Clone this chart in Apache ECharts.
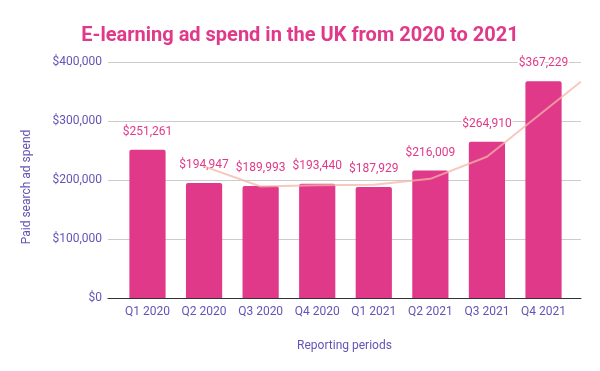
<!DOCTYPE html>
<html>
<head>
<meta charset="utf-8">
<script src="https://cdn.jsdelivr.net/npm/echarts@6/dist/echarts.min.js"></script>
<style>html,body{margin:0;padding:0;background:#fff}#c{width:600px;height:371px}</style>
</head>
<body>
<div id="c"></div>
<script>
const categories = ['Q1 2020','Q2 2020','Q3 2020','Q4 2020','Q1 2021','Q2 2021','Q3 2021','Q4 2021'];
const spend = [251261, 194947, 189993, 193440, 187929, 216009, 264910, 367229];
// trendline points: [category index, value]
const trendX = [1, 2, 3, 4, 5, 6, 7, 7.66];
const trendY = [223000, 189000, 191000, 192000, 202000, 239500, 316000, 366500];
const yTicks = [0, 100000, 200000, 300000, 400000];

const purple = '#6554b5';
const pink = '#e0398a';
const fmt = v => '$' + Number(v).toLocaleString('en-US');

const chart = echarts.init(document.getElementById('c'), null, {renderer: 'canvas'});
chart.setOption({
  backgroundColor: '#fff',
  animation: false,
  title: {
    text: 'E-learning ad spend in the UK from 2020 to 2021',
    left: 'center', top: 21,
    textStyle: {color: pink, fontFamily: 'Roboto', fontWeight: 'bold', fontSize: 20}
  },
  graphic: [{
    type: 'text', x: 27, y: 187, rotation: Math.PI / 2,
    style: {
      text: 'Paid search ad spend', fill: purple, font: '12px Roboto',
      align: 'center', verticalAlign: 'middle'
    }
  }],
  grid: [
    {left: 108, right: 19, top: 62, bottom: 73},
    {left: 119.2, right: 28.2, top: 62, bottom: 73}
  ],
  xAxis: [
    {
      type: 'value', gridIndex: 0, min: -0.698, max: 7.663,
      axisLine: {show: true, lineStyle: {color: '#333', width: 1}},
      axisTick: {show: false}, axisLabel: {show: false}, splitLine: {show: false},
      name: 'Reporting periods', nameLocation: 'middle', nameGap: 42,
      nameTextStyle: {color: purple, fontFamily: 'Roboto', fontSize: 12}
    },
    {
      type: 'category', gridIndex: 1, data: categories,
      axisLine: {show: false}, axisTick: {show: false},
      axisLabel: {color: purple, fontFamily: 'Roboto', fontSize: 12, margin: 8, interval: 0}
    }
  ],
  yAxis: [
    {
      type: 'value', gridIndex: 0, min: yTicks[0], max: yTicks[yTicks.length - 1], interval: 100000,
      axisLine: {show: false}, axisTick: {show: false},
      axisLabel: {color: purple, fontFamily: 'Roboto', fontSize: 12, margin: 6, formatter: fmt},
      splitLine: {lineStyle: {color: '#cccccc', width: 1}}
    },
    {
      type: 'value', gridIndex: 1, min: 0, max: 400000, interval: 100000, show: false
    }
  ],
  series: [
    {
      type: 'bar', xAxisIndex: 1, yAxisIndex: 1, data: spend, barWidth: '64%',
      itemStyle: {color: pink, borderRadius: [2, 2, 0, 0]},
      label: {
        show: true, position: 'top', distance: 12, formatter: p => fmt(p.value),
        color: pink, fontFamily: 'Roboto', fontSize: 12,
        textBorderColor: '#fff', textBorderWidth: 3
      },
      z: 2
    },
    {
      type: 'line', xAxisIndex: 0, yAxisIndex: 0,
      data: trendX.map((x, i) => [x, trendY[i]]),
      showSymbol: false, symbol: 'none', smooth: false,
      lineStyle: {color: 'rgba(244,182,168,0.75)', width: 2},
      z: 3, silent: true
    }
  ]
});
</script>
</body>
</html>
